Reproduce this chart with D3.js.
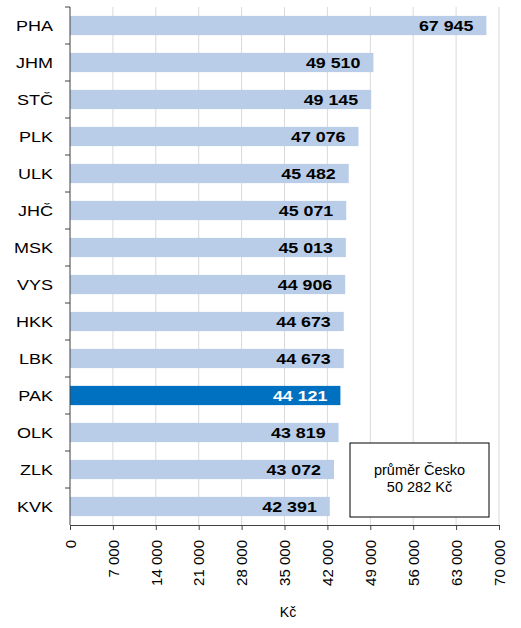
<!DOCTYPE html>
<html>
<head>
<meta charset="utf-8">
<script src="https://cdn.jsdelivr.net/npm/d3@7"></script>
<style>
  body { margin: 0; background: #fff; }
  svg { font-family: "Liberation Sans", Arial, sans-serif; }
</style>
</head>
<body>
<svg id="chart" width="521" height="628"></svg>
<script>
const regions = ["PHA", "JHM", "STČ", "PLK", "ULK", "JHČ", "MSK", "VYS", "HKK", "LBK", "PAK", "OLK", "ZLK", "KVK"];
const wages = [67945, 49510, 49145, 47076, 45482, 45071, 45013, 44906, 44673, 44673, 44121, 43819, 43072, 42391];
const highlight = "PAK";
const xTicks = [0, 7000, 14000, 21000, 28000, 35000, 42000, 49000, 56000, 63000, 70000];
const avgLines = ["průměr Česko", "50 282 Kč"];
const axisTitle = "Kč";

const margin = { top: 7, right: 22, bottom: 103, left: 70 };
const width = 521 - margin.left - margin.right;
const height = 628 - margin.top - margin.bottom;

const fmt = (v) => d3.format(",")(v).replace(/,/g, " ");

const svg = d3.select("#chart");
const g = svg.append("g").attr("transform", `translate(${margin.left},${margin.top})`);

const x = d3.scaleLinear().domain([0, 70000]).range([0, width]);
const y = d3.scaleBand().domain(regions).range([0, height]).paddingInner(0.48).paddingOuter(0.24);
const yEdge = d3.scaleBand().domain(regions).range([0, height]);

// gridlines
g.selectAll(".grid")
  .data(xTicks.slice(1))
  .join("line")
  .attr("x1", (d) => x(d)).attr("x2", (d) => x(d))
  .attr("y1", 0).attr("y2", height)
  .attr("stroke", "#d9d9d9").attr("stroke-width", 1);

// bars
const data = regions.map((r, i) => ({ region: r, value: wages[i] }));
g.selectAll(".bar")
  .data(data)
  .join("rect")
  .attr("x", 0)
  .attr("y", (d) => y(d.region))
  .attr("width", (d) => x(d.value))
  .attr("height", y.bandwidth())
  .attr("fill", (d) => (d.region === highlight ? "#0070c0" : "#b9cde9"));

// value labels (slightly wide glyphs like the original)
g.selectAll(".val")
  .data(data)
  .join("text")
  .attr("transform", (d) => `translate(${x(d.value) - 13},${y(d.region) + y.bandwidth() / 2}) scale(1.15,1)`)
  .attr("dy", "0.36em")
  .attr("text-anchor", "end")
  .attr("font-size", 15.5)
  .attr("font-weight", "bold")
  .attr("fill", (d) => (d.region === highlight ? "#fff" : "#000"))
  .text((d) => fmt(d.value));

// left axis
const yAxis = g.append("g");
yAxis.append("line")
  .attr("x1", 0).attr("x2", 0).attr("y1", 0).attr("y2", height)
  .attr("stroke", "#404040");
yAxis.selectAll(".tk")
  .data(regions)
  .join("line")
  .attr("x1", -5).attr("x2", 0)
  .attr("y1", (d) => yEdge(d)).attr("y2", (d) => yEdge(d))
  .attr("stroke", "#404040");
yAxis.selectAll(".lbl")
  .data(regions)
  .join("text")
  .attr("transform", (d) => `translate(-17,${yEdge(d) + yEdge.bandwidth() / 2}) scale(1.2,1)`)
  .attr("dy", "0.36em")
  .attr("text-anchor", "end")
  .attr("font-size", 15)
  .attr("fill", "#000")
  .text((d) => d);

// bottom axis
const xAxis = d3.axisBottom(x).tickValues(xTicks).tickSize(5).tickSizeOuter(0).tickFormat(fmt);
const xg = g.append("g").attr("transform", `translate(0,${height})`).call(xAxis);
xg.select(".domain").attr("stroke", "#404040");
xg.selectAll(".tick line").attr("stroke", "#404040");
xg.selectAll(".tick text")
  .attr("transform", "rotate(-90)")
  .attr("x", -15)
  .attr("y", 0)
  .attr("dy", "0.35em")
  .attr("text-anchor", "end")
  .attr("font-size", 15)
  .attr("font-family", "Liberation Sans, Arial, sans-serif")
  .attr("fill", "#000");

// axis title
g.append("text")
  .attr("x", 288 - margin.left)
  .attr("y", 617 - margin.top)
  .attr("text-anchor", "middle")
  .attr("font-size", 14)
  .attr("fill", "#000")
  .text(axisTitle);

// average box
const box = g.append("g").attr("transform", `translate(${350 - margin.left},${443 - margin.top})`);
box.append("rect")
  .attr("width", 139).attr("height", 74)
  .attr("fill", "#fff").attr("stroke", "#000").attr("stroke-width", 1);
box.selectAll("text")
  .data(avgLines)
  .join("text")
  .attr("x", 69.5)
  .attr("y", (d, i) => 32 + i * 16.5)
  .attr("text-anchor", "middle")
  .attr("font-size", 14.5)
  .attr("fill", "#000")
  .text((d) => d);
</script>
</body>
</html>
